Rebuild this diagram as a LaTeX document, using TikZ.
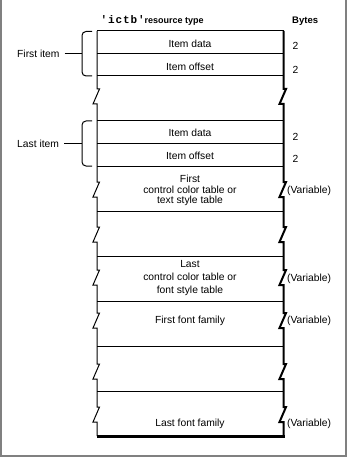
\documentclass[tikz,border=0pt]{standalone}
\usepackage{fontspec}
\setmainfont{Liberation Sans}
\newfontfamily\monob[LetterSpace=8]{Liberation Mono}
\newcommand\zigL[1]{-- (97,#1) -- (99.5,#1) -- (93,{#1+15}) -- (97,{#1+15})}
\newcommand\zigR[1]{-- (283.5,#1) -- (286,#1) -- (279.5,{#1+15}) -- (283.5,{#1+15})}
\begin{document}
\begin{tikzpicture}[x=1pt,y=-1pt,
  lbl/.style={font=\fontsize{10.3}{10.5}\selectfont, inner sep=0pt, align=center},
  side/.style={font=\fontsize{10.3}{10.5}\selectfont, inner sep=0pt, anchor=west},
  rule/.style={line width=1pt},
  shadow/.style={line width=2pt},
  brk/.style={line width=1pt, rounded corners=4pt}]
\useasboundingbox (0,0) rectangle (347,457);
\fill[white] (0,0) rectangle (347,457);
\draw[gray, line width=2pt] (1,0) -- (1,455.5) -- (345.8,455.5) -- (345.8,0);

% header
\node[inner sep=0pt, anchor=base west] (hdr) at (100.5,24)
  {\fontsize{11}{11}\selectfont\monob\bfseries 'ictb'\fontsize{9}{10}\selectfont\rmfamily\bfseries resource type};
\node[inner sep=0pt, anchor=base west, font=\fontsize{9.5}{10}\selectfont\bfseries] (bytes) at (292,24) {Bytes};

% box sides
\draw[rule] (97,31) \zigL{89} \zigL{182} \zigL{227} \zigL{270} \zigL{313} \zigL{364} \zigL{407} -- (97,436);
\draw[shadow] (283.5,31) \zigR{89} \zigR{182} \zigR{227} \zigR{270} \zigR{313} \zigR{364} \zigR{407} -- (283.5,437.5);
\draw[line width=2.5pt] (97,436.5) -- (284.5,436.5);
\draw[rule] (97,31) -- (283.5,31);
\foreach \y in {53.5,76,121,143.5,166,211,256,301,346,391}
  \draw[rule] (97,\y) -- (283.5,\y);

% first item
\node[lbl] (d1) at (190,43.5) {Item data};
\node[lbl] (o1) at (190,66.5) {Item offset};
\node[side] (s1) at (292.5,46) {2};
\node[side] (s2) at (292.5,69.5) {2};
\draw[brk] (92,31.5) -- (82,31.5) -- (82,76) -- (92,76);
\node[side] (fi) at (17,54) {First item};
\coordinate (b1) at (82,54);
\draw[rule] ([xshift=5pt]fi.east) -- (b1);

% last item
\node[lbl] (d2) at (190,133) {Item data};
\node[lbl] (o2) at (190,155.5) {Item offset};
\node[side] (s3) at (292.5,137) {2};
\node[side] (s4) at (292.5,159) {2};
\draw[brk] (92,121) -- (82,121) -- (82,166) -- (92,166);
\node[side] (li) at (17,143.5) {Last item};
\coordinate (b2) at (82,143.5);
\draw[rule] ([xshift=5pt]li.east) -- (b2);

% tables
\node[lbl] (t1) at (190,190.5) {First\\control color table or\\text style table};
\node[side] (v1) at (287,190.5) {(Variable)};
\node[lbl, font=\fontsize{10.3}{13}\selectfont] (t2) at (190,278.5) {Last\\control color table or\\font style table};
\node[side] (v2) at (287,278.5) {(Variable)};
\node[lbl] (f1) at (190,321) {First font family};
\node[side] (v3) at (287,321) {(Variable)};
\node[lbl] (f2) at (190,423.5) {Last font family};
\node[side] (v4) at (287,423.5) {(Variable)};
\end{tikzpicture}
\end{document}
